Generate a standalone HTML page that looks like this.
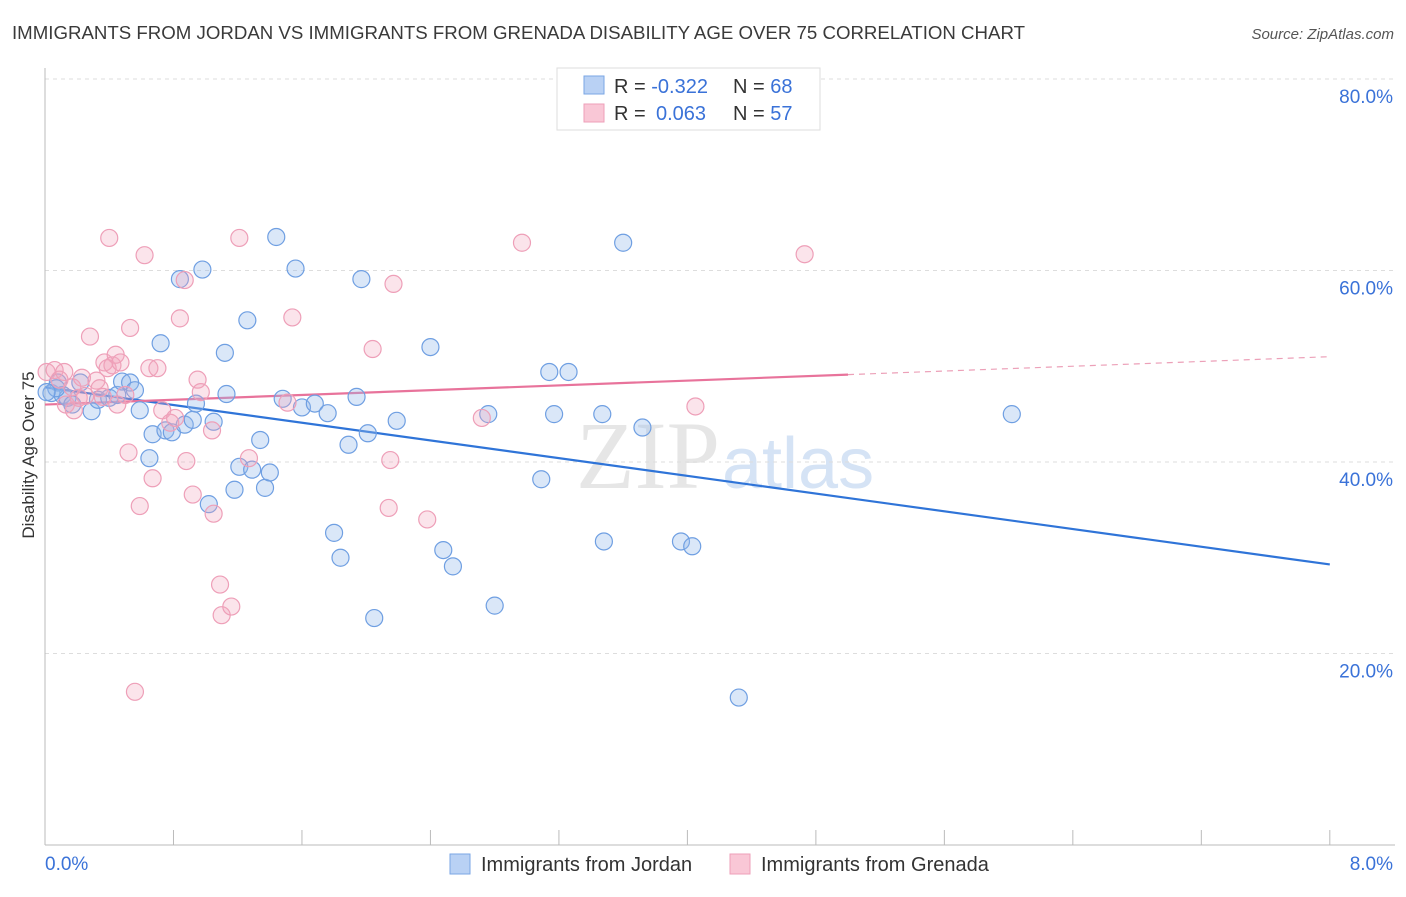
<!DOCTYPE html>
<html><head><meta charset="utf-8"><style>
body{margin:0;background:#fff;font-family:"Liberation Sans",sans-serif}
</style></head><body>
<svg id="c" width="1406" height="892" xmlns="http://www.w3.org/2000/svg">
<text x="12" y="39" font-size="18.5" fill="#3a3a3a" textLength="1013" lengthAdjust="spacingAndGlyphs">IMMIGRANTS FROM JORDAN VS IMMIGRANTS FROM GRENADA DISABILITY AGE OVER 75 CORRELATION CHART</text>
<text x="1394" y="39" font-size="15" fill="#555" font-style="italic" text-anchor="end">Source: ZipAtlas.com</text>
<text x="720" y="488" font-size="96" fill="#e6e6e6" font-family="Liberation Serif,serif" text-anchor="end">ZIP</text>
<text x="722" y="488" font-size="72" fill="#d5e3f5" text-anchor="start">atlas</text>
<g id="grid"></g><g id="axes"></g><g id="trend"></g><g id="pts"></g>
<text transform="translate(34,455) rotate(-90)" font-size="17" fill="#333" text-anchor="middle">Disability Age Over 75</text>
<g>
<rect x="557" y="68" width="263" height="62" fill="#fff" stroke="#ddd"/>
<rect x="584" y="76" width="20" height="18" fill="#b9d1f4" stroke="#7aa6e4"/>
<rect x="584" y="104" width="20" height="18" fill="#f9c7d6" stroke="#ee9fb8"/>
<text x="614" y="93" font-size="20" fill="#333">R = <tspan fill="#3a72d8">-0.322</tspan><tspan x="733">N = </tspan><tspan fill="#3a72d8">68</tspan></text>
<text x="614" y="120" font-size="20" fill="#333">R = <tspan x="656" fill="#3a72d8">0.063</tspan><tspan x="733">N = </tspan><tspan fill="#3a72d8">57</tspan></text>
</g>
<g>
<rect x="450" y="854" width="20" height="20" fill="#b9d1f4" stroke="#7aa6e4"/>
<text x="481" y="871" font-size="20" fill="#333">Immigrants from Jordan</text>
<rect x="730" y="854" width="20" height="20" fill="#f9c7d6" stroke="#ee9fb8"/>
<text x="761" y="871" font-size="20" fill="#333">Immigrants from Grenada</text>
</g>
</svg>
<script>
const blueX=[0.04,0.08,0.11,0.14,0.17,0.22,0.29,0.33,0.40,0.45,0.48,0.53,0.56,0.59,0.67,0.65,0.72,0.75,0.79,0.84,0.87,0.92,0.94,0.98,1.02,1.05,1.12,1.13,1.18,1.21,1.26,1.29,1.34,1.37,1.40,1.44,1.48,1.56,1.60,1.68,1.76,1.80,1.84,1.89,1.94,1.97,2.01,2.05,2.19,2.40,2.48,2.54,2.76,2.80,3.09,3.14,3.17,3.26,3.47,3.48,3.60,3.72,3.96,4.03,4.32,6.02,0.07,0.01];
const blueY=[47.2,48.3,47.0,46.7,46.0,48.3,45.3,46.5,46.7,47.0,48.4,48.3,47.5,45.4,42.9,40.4,52.4,43.3,43.1,59.1,43.9,44.4,46.1,60.1,35.6,44.2,51.4,47.1,37.1,39.5,54.8,39.2,42.3,37.3,38.9,63.5,46.6,60.2,45.7,46.1,45.1,32.6,30.0,41.8,46.8,59.1,43.0,23.7,44.3,52.0,30.8,29.1,45.0,25.0,38.2,49.4,45.0,49.4,45.0,31.7,62.9,43.6,31.7,31.2,15.4,45.0,47.7,47.3];
const pinkX=[0.01,0.06,0.09,0.13,0.18,0.21,0.25,0.28,0.32,0.34,0.37,0.39,0.42,0.44,0.47,0.50,0.53,0.52,0.56,0.59,0.62,0.65,0.67,0.70,0.73,0.78,0.81,0.84,0.87,0.88,0.92,0.95,0.97,1.04,1.05,1.09,1.10,1.16,1.21,1.27,1.51,1.54,2.04,2.14,2.15,2.17,2.38,2.72,2.97,4.05,4.73,0.40,0.17,0.36,0.12,0.23,0.45];
const pinkY=[49.4,49.6,48.6,46.0,45.4,46.7,46.9,53.1,48.5,47.7,50.4,49.8,50.1,51.2,50.4,47.0,54.0,41.0,16.0,35.4,61.6,49.8,38.3,49.8,45.4,44.1,44.6,55.0,59.0,40.1,36.6,48.6,47.3,43.3,34.6,27.2,24.0,24.9,63.4,40.4,46.2,55.1,51.8,35.2,40.2,58.6,34.0,44.6,62.9,45.8,61.7,63.4,47.8,46.8,49.4,48.8,46.0];
const blueTrend=[47.8,29.3];
const pinkTrend=[46.0,51.0];
const pinkSolidEnd=5.0;
const yTicks=[20,40,60,80];
const yTickLabels=["20.0%","40.0%","60.0%","80.0%"];
const xTicks=[0,0.8,1.6,2.4,3.2,4.0,4.8,5.6,6.4,7.2,8.0];
const NS="http://www.w3.org/2000/svg";
const sx=v=>45+v*160.6, sy=v=>845-v*9.575;
function mk(t,a,p){const e=document.createElementNS(NS,t);for(const k in a)e.setAttribute(k,a[k]);p.appendChild(e);return e;}
const grid=document.getElementById('grid'),axes=document.getElementById('axes'),tr=document.getElementById('trend'),pts=document.getElementById('pts');
yTicks.forEach((v,i)=>{
 const l=mk('line',{x1:45,x2:1395,y1:sy(v),y2:sy(v),stroke:'#ddd','stroke-dasharray':'4,4'},grid);
 
 
 const t=mk('text',{x:1393,y:sy(v)+24,'font-size':19,fill:'#3a72d8','text-anchor':'end'},grid);
 t.textContent=yTickLabels[i];
 
 
});
mk('line',{x1:45,x2:45,y1:68,y2:845,stroke:'#bbb'},axes);
mk('line',{x1:45,x2:1395,y1:845,y2:845,stroke:'#bbb'},axes);
xTicks.forEach(v=>{const l=mk('line',{x1:sx(v),x2:sx(v),y1:830,y2:845,stroke:'#bbb'},axes);
 
 });
const x0=mk('text',{x:45,y:870,'font-size':19,fill:'#3a72d8'},axes);x0.textContent='0.0%';


const x1=mk('text',{x:1393,y:870,'font-size':19,fill:'#3a72d8','text-anchor':'end'},axes);x1.textContent='8.0%';


blueX.forEach((v,i)=>{const c=mk('circle',{cx:sx(v),cy:sy(blueY[i]),r:8.5,fill:'rgba(150,185,235,0.35)',stroke:'#6f9fe2','stroke-width':1.2},pts);
 
 });
pinkX.forEach((v,i)=>{const c=mk('circle',{cx:sx(v),cy:sy(pinkY[i]),r:8.5,fill:'rgba(242,165,190,0.3)',stroke:'#ee9fb8','stroke-width':1.2},pts);
 
 });
const b=mk('line',{x1:sx(0),y1:sy(blueTrend[0]),x2:sx(8),y2:sy(blueTrend[1]),stroke:'#2f74d8','stroke-width':2.2},tr);


const pm=pinkTrend[0]+(pinkTrend[1]-pinkTrend[0])*pinkSolidEnd/8;
const p1=mk('line',{x1:sx(0),y1:sy(pinkTrend[0]),x2:sx(pinkSolidEnd),y2:sy(pm),stroke:'#e8739b','stroke-width':2.2},tr);


const p2=mk('line',{x1:sx(pinkSolidEnd),y1:sy(pm),x2:sx(8),y2:sy(pinkTrend[1]),stroke:'#eca0b8','stroke-width':1.2,'stroke-dasharray':'6,5'},tr);


</script>
</body></html>
